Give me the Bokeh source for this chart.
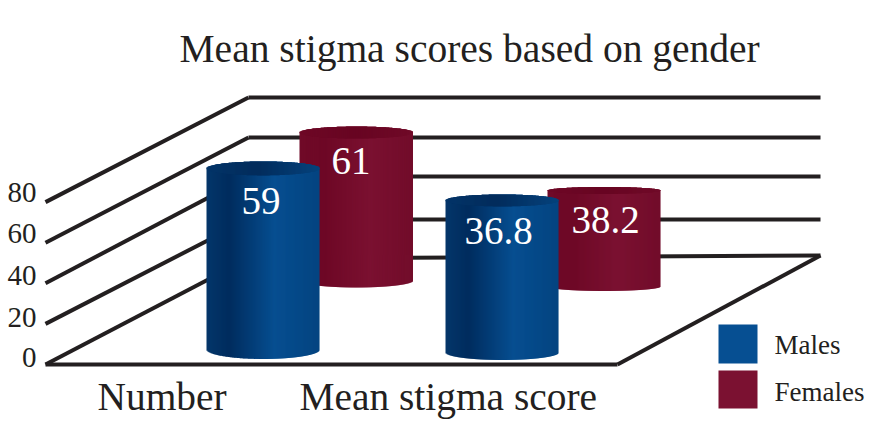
from bokeh.plotting import figure
from bokeh.embed import file_html
from bokeh.resources import INLINE
from bokeh.core.properties import value
import math

# ---- data ----
categories = ["Number", "Mean stigma score"]
male_values = ["59", "36.8"]
female_values = ["61", "38.2"]
tick_labels = [0, 20, 40, 60, 80]
series_names = ["Males", "Females"]
title_text = "Mean stigma scores based on gender"
# cylinder heights as drawn in the picture, in axis units of the front plane
male_drawn = [89.2, 74.9]
female_drawn = [72.9, 47.3]

# ---- layout (page pixels) ----
W, H = 885, 436
PX = 2.03            # page pixels per axis unit
FRONT0 = 364.0


def Y(py):
    return (FRONT0 - py) / PX


INK = "#231f20"
SERIF = value("Liberation Serif")

p = figure(width=W, height=H, x_range=(0, W), y_range=(Y(H), Y(0)),
           output_backend="svg", toolbar_location=None, min_border=0,
           background_fill_color="white", border_fill_color="white")
p.axis.visible = False
p.grid.visible = False
p.outline_line_color = None


def segs(xs0, ys0, xs1, ys1, w=4.0):
    p.segment(xs0, ys0, xs1, ys1, line_color=INK, line_width=w, line_cap="butt")


# back-wall and side-wall lines
LEFT_F, LEFT_B, RIGHT_F, RIGHT_B = 45, 248, 617, 820
back_y = {0: 258, 20: 219, 40: 176, 60: 137, 80: 97}
for t in tick_labels:
    y0 = Y(FRONT0) + t
    y1 = Y(back_y[t])
    segs([LEFT_F], [y0], [LEFT_B], [y1])
    if t == 0:
        segs([LEFT_B], [y1], [RIGHT_B], [Y(255)])
    else:
        segs([LEFT_B], [y1], [RIGHT_B], [y1])
segs([LEFT_F], [Y(FRONT0)], [RIGHT_F], [Y(FRONT0)])
segs([RIGHT_F], [Y(FRONT0)], [RIGHT_B], [Y(255)])


def lerp_color(stops, t):
    for (t0, c0), (t1, c1) in zip(stops, stops[1:]):
        if t <= t1:
            f = (t - t0) / (t1 - t0)
            rgb = [round(a + (b - a) * f) for a, b in zip(c0, c1)]
            return "#%02x%02x%02x" % tuple(rgb)
    return "#%02x%02x%02x" % stops[-1][1]


BLUE = [(0, (4, 54, 106)), (.2, (0, 44, 94)), (.6, (6, 78, 144)), (1, (4, 68, 128))]
BLUE_CAP = [(0, (3, 52, 104)), (.45, (2, 44, 92)), (1, (5, 66, 124))]
RED = [(0, (112, 10, 40)), (.22, (110, 8, 38)), (.62, (123, 17, 49)), (1, (114, 12, 42))]
RED_CAP = [(0, (110, 8, 38)), (.5, (104, 5, 34)), (1, (112, 10, 40))]


def cylinder(x0, x1, bottom_px, drawn, ry_top, ry_bot, body, cap):
    cx, rx = (x0 + x1) / 2, (x1 - x0) / 2
    top_px = bottom_px - drawn * PX
    n = int(x1 - x0)
    L, R, T, B, C = [], [], [], [], []
    cL, cR, cT, cB, cC = [], [], [], [], []
    for i in range(n):
        a = x0 + (x1 - x0) * i / n
        b = x0 + (x1 - x0) * (i + 1) / n
        m = (a + b) / 2
        s = math.sqrt(max(0, 1 - ((m - cx) / rx) ** 2))
        t = (m - x0) / (x1 - x0)
        L.append(a); R.append(b + (0.6 if i < n - 1 else 0))
        T.append(Y(top_px - ry_top * s)); B.append(Y(bottom_px + ry_bot * s))
        C.append(lerp_color(body, t))
        cL.append(a); cR.append(b + (0.6 if i < n - 1 else 0))
        cT.append(Y(top_px - ry_top * s)); cB.append(Y(top_px + ry_top * s))
        cC.append(lerp_color(cap, t))
    p.quad(left=L, right=R, top=T, bottom=B, fill_color=C, line_color=None)
    p.quad(left=cL, right=cR, top=cT, bottom=cB, fill_color=cC, line_color=None)


FEMALE_X = [(299, 412.5), (547, 660)]
MALE_X = [(206, 319), (445, 558)]
FEMALE_BOT = [280, 286]
MALE_BOT = [349, 352]
FEMALE_RY = [(6, 7), (3.5, 4.5)]
MALE_RY = [(7, 9.5), (6, 7.5)]

for i in range(2):
    cylinder(*FEMALE_X[i], FEMALE_BOT[i], female_drawn[i], *FEMALE_RY[i], RED, RED_CAP)
    cylinder(*MALE_X[i], MALE_BOT[i], male_drawn[i], *MALE_RY[i], BLUE, BLUE_CAP)


def txt(x, py, s, size, color=INK, align="left"):
    # the SVG text sits about a third of its size below the requested baseline
    p.text([x], [Y(py - 0.33 * size)], text=[s], text_font=SERIF,
           text_font_size=f"{size}px", text_color=color, text_align=align,
           text_baseline="alphabetic")


# value labels
for s, x, py in zip(male_values, [260.5, 498], [213, 243]):
    txt(x, py, s, 39, "white", "center")
for s, x, py in zip(female_values, [350.5, 605], [173, 232]):
    txt(x, py, s, 39, "white", "center")

# tick labels
for t, py in zip(tick_labels, [367, 327, 285, 243, 202]):
    txt(36, py, str(t), 29, INK, "right")

# category labels
for s, x in zip(categories, [97, 299]):
    txt(x, 410, s, 39.4)

# title
txt(179, 62, title_text, 39.5)

# legend
p.quad(left=[718], right=[757], top=[Y(324)], bottom=[Y(363)], fill_color="#064f92", line_color=None)
p.quad(left=[718], right=[757], top=[Y(370)], bottom=[Y(408)], fill_color="#7b1131", line_color=None)
txt(774, 353, series_names[0], 27)
txt(774, 400, series_names[1], 27)

open("out.html", "w").write(file_html(p, INLINE))
